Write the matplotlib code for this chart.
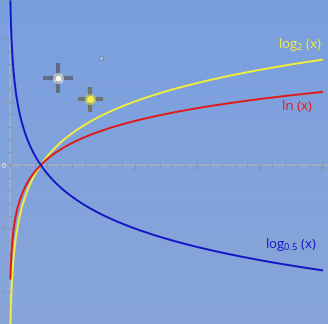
import matplotlib.pyplot as plt
import numpy as np
from matplotlib.ticker import MultipleLocator

# Curves and their labels
curve_names   = ["log2", "ln", "log05"]
curve_bases   = [2.0, np.e, 0.5]
curve_colors  = ["#f2ee3a", "#e01818", "#1414c4"]
curve_labels  = [r"log$_{2}$ (x)", "ln (x)", r"log$_{0.5}$ (x)"]

# Axis ticks
x_ticks = [2, 4, 6, 8, 10]
y_ticks = [-4, -2, 2, 4]

plt.rcParams["font.family"] = ["Open Sans", "DejaVu Sans"]
plt.rcParams["mathtext.fontset"] = "custom"
plt.rcParams["mathtext.rm"] = "Open Sans"
plt.rcParams["mathtext.it"] = "Open Sans"

fig = plt.figure(figsize=(3.28, 3.24), dpi=100)
ax = fig.add_axes([0, 0, 1, 1])

# Background gradient
grad = np.linspace(0, 1, 256).reshape(-1, 1)
top = np.array([0.478, 0.624, 0.878])
bot = np.array([0.533, 0.651, 0.847])
img = top[None, None, :] * (1 - grad[..., None]) + bot[None, None, :] * grad[..., None]
ax.imshow(img, extent=[-0.304, 10.19, -5.016, 5.205], aspect="auto", zorder=0)

# Axes through the origin
for side in ["top", "right"]:
    ax.spines[side].set_visible(False)
ax.spines["left"].set_position(("data", 0))
ax.spines["bottom"].set_position(("data", 0))
for side in ["left", "bottom"]:
    ax.spines[side].set_color("#a3b0c6")
    ax.spines[side].set_linewidth(1.2)
    ax.spines[side].set_zorder(1)

ax.xaxis.set_minor_locator(MultipleLocator(0.4))
ax.yaxis.set_minor_locator(MultipleLocator(0.4))
ax.set_xticks(x_ticks)
ax.set_yticks(y_ticks)
ax.tick_params(which="both", direction="inout", length=2.5, width=0.8, color="#8a94a8",
               labelsize=4.5, labelcolor="#8890a4", pad=0.5)
ax.text(-0.18, -0.06, "0", fontsize=5, color="#ffffff", ha="center", va="center")

# Log curves
x = np.linspace(0.028, 10, 600)
for base, col in zip(curve_bases, curve_colors):
    ax.plot(x, np.log(x) / np.log(base), color=col, lw=1.4, zorder=3)

# Curve labels
label_pos = [(9.3, 3.8), (9.2, 1.85), (9.0, -2.5)]
for (lx, ly), col, txt in zip(label_pos, curve_colors, curve_labels):
    ax.text(lx, ly, txt, color=col, fontsize=9.5, ha="center", va="center", zorder=4)

# Sparkles
ax.plot([1.55], [2.74], marker="+", ms=21, mew=3, color="#5a6070", alpha=0.8, zorder=2)
ax.plot([1.55], [2.74], marker="o", ms=8, color="#fffbe0", alpha=0.5, mew=0, zorder=2)
ax.plot([1.55], [2.74], marker="o", ms=4, color="#ffffff", mew=0, zorder=2)
ax.plot([2.58], [2.08], marker="+", ms=18, mew=3, color="#6a6a50", alpha=0.8, zorder=2)
ax.plot([2.58], [2.08], marker="o", ms=8, color="#f0f040", alpha=0.5, mew=0, zorder=2)
ax.plot([2.58], [2.08], marker="o", ms=5, color="#f4f050", mew=0, zorder=2)
ax.plot([2.93], [3.38], marker="o", ms=2.5, color="#c8d4ec", mec="#6a7690", mew=0.5, zorder=2)

ax.set_xlim(-0.304, 10.19)
ax.set_ylim(-5.016, 5.205)

fig.savefig("out.png", dpi=100)
